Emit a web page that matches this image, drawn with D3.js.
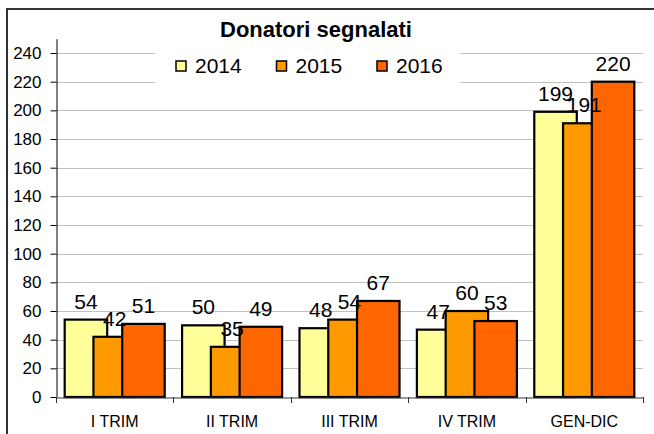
<!DOCTYPE html>
<html>
<head>
<meta charset="utf-8">
<script src="https://cdn.jsdelivr.net/npm/d3@7"></script>
<style>
  html, body { margin: 0; padding: 0; background: #fff; }
  svg { display: block; font-family: Arial, "Liberation Sans", sans-serif; }
</style>
</head>
<body>
<svg id="chart" width="654" height="434"></svg>
<script>
const categories = ["I TRIM", "II TRIM", "III TRIM", "IV TRIM", "GEN-DIC"];
const seriesNames = ["2014", "2015", "2016"];
const values2014 = [54, 50, 48, 47, 199];
const values2015 = [42, 35, 54, 60, 191];
const values2016 = [51, 49, 67, 53, 220];
const yTicks = [0, 20, 40, 60, 80, 100, 120, 140, 160, 180, 200, 220, 240];
const chartTitle = "Donatori segnalati";

const seriesValues = [values2014, values2015, values2016];
const colors = ["#FFFF99", "#FF9900", "#FF6600"];

const svg = d3.select("#chart");
const left = 56, right = 643, bottom = 397;

const x = d3.scaleBand().domain(categories).range([left, right]).paddingInner(0).paddingOuter(0);
const y = d3.scaleLinear().domain([0, 250]).range([bottom, 38.7]);

// outer chart border (extends beyond the picture on right and bottom)
svg.append("rect").attr("x", 7).attr("y", 9).attr("width", 700).attr("height", 500)
  .attr("fill", "none").attr("stroke", "#000").attr("stroke-width", 1.6);

// gridlines
svg.append("g").selectAll("line").data(yTicks.filter(d => d > 0)).join("line")
  .attr("x1", left).attr("x2", right)
  .attr("y1", d => Math.round(y(d)) + 0.5).attr("y2", d => Math.round(y(d)) + 0.5)
  .attr("stroke", "#c0c0c0").attr("stroke-width", 1);

// bars
const bw = x.bandwidth();
const barW = bw * 0.362;
const step = bw * 0.245;
const groupOffset = (bw - (2 * step + barW)) / 2;

seriesValues.forEach((vals, si) => {
  const g = svg.append("g");
  g.selectAll("rect").data(vals).join("rect")
    .attr("x", (d, i) => x(categories[i]) + groupOffset + si * step)
    .attr("y", d => y(d))
    .attr("width", barW)
    .attr("height", d => bottom - y(d))
    .attr("fill", colors[si])
    .attr("stroke", "#000").attr("stroke-width", 2.2);
});

// data labels
seriesValues.forEach((vals, si) => {
  svg.append("g").selectAll("text").data(vals).join("text")
    .attr("x", (d, i) => x(categories[i]) + groupOffset + si * step + barW / 2)
    .attr("y", d => y(d) - 11)
    .attr("text-anchor", "middle")
    .attr("font-size", 21)
    .attr("fill", "#000")
    .text(d => d);
});

// y axis
const yAxis = svg.append("g").attr("transform", `translate(${left + 0.5},0)`)
  .call(d3.axisLeft(y).tickValues(yTicks).tickSize(6).tickSizeOuter(0).tickPadding(9));
yAxis.select(".domain").attr("stroke", "#000");
yAxis.selectAll(".tick line").attr("stroke", "#000");
yAxis.selectAll(".tick text").attr("font-size", 17).attr("fill", "#000")
  .attr("font-family", "Arial, 'Liberation Sans', sans-serif");

// x axis
const xAxis = svg.append("g").attr("transform", `translate(0,${bottom + 0.5})`)
  .call(d3.axisBottom(x).tickSize(0).tickSizeOuter(0).tickPadding(18));
xAxis.select(".domain").attr("stroke", "#333");
xAxis.selectAll(".tick text").attr("font-size", 16).attr("fill", "#000")
  .attr("font-family", "Arial, 'Liberation Sans', sans-serif");
const boundaries = categories.map(c => x(c)).concat([x.range()[1]]);
svg.append("g").selectAll("line").data(boundaries).join("line")
  .attr("x1", d => Math.round(d) + 0.5).attr("x2", d => Math.round(d) + 0.5)
  .attr("y1", bottom).attr("y2", bottom + 6)
  .attr("stroke", "#333");

// legend (white box masks gridlines)
svg.append("rect").attr("x", 155).attr("y", 45).attr("width", 305).attr("height", 42).attr("fill", "#fff");
const legend = svg.append("g").selectAll("g").data(seriesNames).join("g")
  .attr("transform", (d, i) => `translate(${176 + i * 100.5},61)`);
legend.append("rect").attr("width", 10).attr("height", 10)
  .attr("fill", (d, i) => colors[i]).attr("stroke", "#000").attr("stroke-width", 1.5);
legend.append("text").attr("x", 19).attr("y", 12).attr("font-size", 21).attr("fill", "#000").text(d => d);

// title
svg.append("text").attr("x", 316).attr("y", 37).attr("text-anchor", "middle")
  .attr("font-size", 22).attr("font-weight", "bold").attr("fill", "#000").text(chartTitle);
</script>
</body>
</html>
